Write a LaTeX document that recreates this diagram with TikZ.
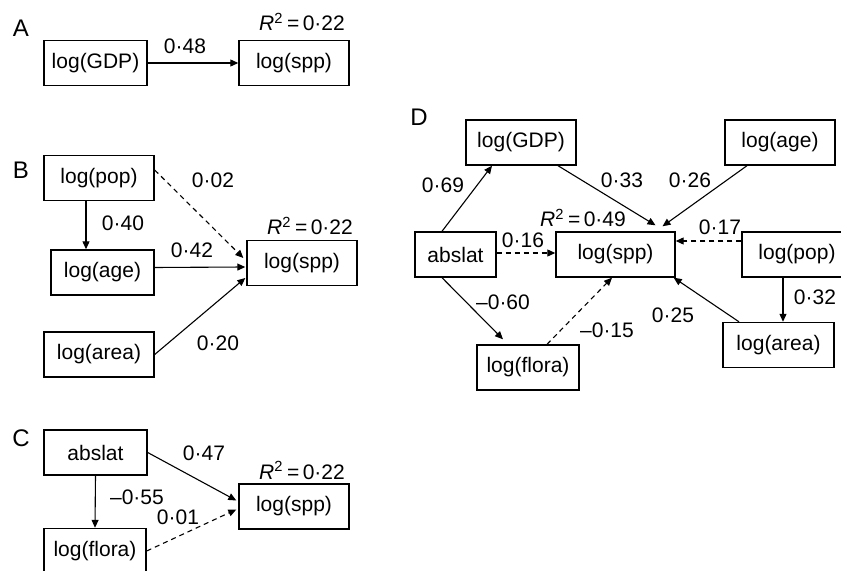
\documentclass[tikz,border=0pt]{standalone}
\usepackage{fontspec}
\setmainfont{Liberation Sans}
\usetikzlibrary{arrows.meta,calc}

\tikzset{
  var/.style={draw, line width=0.7pt, minimum height=22.5pt, inner sep=0pt},
  eff/.style={line width=0.55pt, -{Triangle[length=4pt,width=3.5pt]}},
  weak/.style={eff, dash pattern=on 2.5pt off 2pt},
  panel/.style={font=\fontsize{12}{14}\selectfont},
}
\newcommand{\rsq}[1]{\textit{R}\textsuperscript{2}\,=\,#1}

\begin{document}
\begin{tikzpicture}[x=0.5pt, y=-0.5pt, font=\fontsize{10.5}{12.6}\selectfont]
    \useasboundingbox (0,0) rectangle (841,571);
    \clip (0,0) rectangle (841,571);

    % A
    \node[panel] (lA) at (21,28) {A};
    \node[var, minimum width=51.5pt] (gdpA) at (95.5,63) {log(GDP)};
    \node[var, minimum width=55pt] (sppA) at (294,63) {log(spp)};
    \node (rA) at (302,22) {\rsq{0·22}};
    \draw[eff] (gdpA.east) -- (sppA.west);
    \node (wA) at (185,46) {0·48};

    % B
    \node[panel] (lB) at (21,170) {B};
    \node[var, minimum width=55pt] (popB) at (99,178) {log(pop)};
    \node[var, minimum width=51.5pt] (ageB) at (102.5,272.5) {log(age)};
    \node[var, minimum width=55pt] (areaB) at (99,354.5) {log(area)};
    \node[var, minimum width=55pt] (sppB) at (302,263) {log(spp)};
    \node (rB) at (310,226) {\rsq{0·22}};
    \draw[weak] ($(popB.east)+(0,-8)$) -- ($(sppB.west)+(-3,-5)$);
    \draw[eff] ($(popB.south)+(-13,0)$) -- ($(ageB.north)+(-16.5,0)$);
    \draw[eff] ($(ageB.east)+(0,-5)$) -- ($(sppB.west)+(-1,4)$);
    \draw[eff] (areaB.east) -- ($(sppB.west)+(-1,15)$);
    \node (wB1) at (213,180) {0·02};
    \node (wB2) at (123,223) {0·40};
    \node (wB3) at (192,250) {0·42};
    \node (wB4) at (218,343) {0·20};

    % C
    \node[panel] (lC) at (21,438) {C};
    \node[var, minimum width=51.5pt] (latC) at (95.5,452.5) {abslat};
    \node[var, minimum width=51pt] (floC) at (95,551) {log(flora)};
    \node[var, minimum width=55pt] (sppC) at (294,506.5) {log(spp)};
    \node (rC) at (302,470) {\rsq{0·22}};
    \draw[eff] (latC.east) -- ($(sppC.west)+(-2,-6)$);
    \draw[weak] (floC.east) -- ($(sppC.west)+(-2,3)$);
    \draw[eff] (latC.south) -- (floC.north);
    \node (wC1) at (204,453) {0·47};
    \node (wC2) at (137,497) {–0·55};
    \node (wC3) at (178,517) {0·01};

    % D
    \node[panel] (lD) at (419,117) {D};
    \node[var, minimum width=55pt] (gdpD) at (521,142.5) {log(GDP)};
    \node[var, minimum width=55pt] (ageD) at (780,142.5) {log(age)};
    \node[var, minimum width=40.5pt] (latD) at (455.5,254.5) {abslat};
    \node[var, minimum width=59.5pt] (sppD) at (615.5,254.5) {log(spp)};
    \node[var, minimum width=55pt] (popD) at (797,254.5) {log(pop)};
    \node[var, minimum width=51pt] (floD) at (528,367.5) {log(flora)};
    \node[var, minimum width=55.5pt] (areaD) at (778.5,345) {log(area)};
    \node (rD) at (583,218) {\rsq{0·49}};
    \draw[eff] ($(latD.north)+(-13.5,0)$) -- ($(gdpD.south)+(-29,0)$);
    \draw[eff] ($(gdpD.south)+(37,0)$) -- ($(sppD.north)+(40,-6)$);
    \draw[eff] ($(ageD.south)+(-33,0)$) -- ($(sppD.north)+(47,-5)$);
    \draw[weak] ($(latD.east)+(0,-1.5)$) -- ($(sppD.west)+(0,-1.5)$);
    \draw[weak] ($(popD.west)+(0,-13.5)$) -- ($(sppD.east)+(0,-13.5)$);
    \draw[eff] ($(latD.south)+(-13.5,0)$) -- ($(floD.north)+(-25,-5)$);
    \draw[weak] ($(floD.north)+(19,0)$) -- ($(sppD.south)+(-3.5,0)$);
    \draw[eff] ($(areaD.north)+(-39.5,0)$) -- ($(sppD.south east)+(-2,0)$);
    \draw[eff] ($(popD.south)+(-14,0)$) -- ($(areaD.north)+(4.5,0)$);
    \node (wD1) at (443,185) {0·69};
    \node (wD2) at (622,180) {0·33};
    \node (wD3) at (690,180) {0·26};
    \node (wD4) at (523,240) {0·16};
    \node (wD5) at (720,227) {0·17};
    \node (wD6) at (503,302) {–0·60};
    \node (wD7) at (607,330) {–0·15};
    \node (wD8) at (673,315) {0·25};
    \node (wD9) at (815,297) {0·32};
\end{tikzpicture}
\end{document}
